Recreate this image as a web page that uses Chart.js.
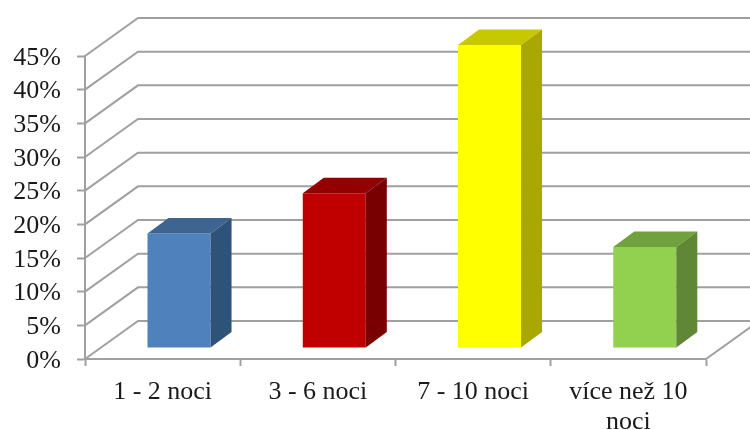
<!DOCTYPE html>
<html>
<head>
<meta charset="utf-8">
<style>
html,body{margin:0;padding:0;background:#fff}
canvas{display:block}
</style>
<script src="https://cdn.jsdelivr.net/npm/chart.js@4/dist/chart.umd.min.js"></script>
</head>
<body>
<canvas id="c" width="750" height="430"></canvas>
<script>
const categories = ["1 - 2 noci", "3 - 6 noci", "7 - 10 noci", ["více než 10", "noci"]];
const shares = [17, 23, 45, 15];
const yMax = 45;
const yStep = 5;
const frontColors = ["#4F81BD", "#C00000", "#FFFF00", "#92D050"];
const topColors = ["#3E6491", "#940000", "#C8C800", "#71A03E"];
const sideColors = ["#2F5279", "#780000", "#A8A800", "#5F8736"];

const gridColor = "#A0A0A0";
const wallDepth = { dx: 53, dy: -38 };   // depth of the floor and side wall
const barShift = { dx: 16.4, dy: -11 };  // bars stand part way into the floor
const barDepth = { dx: 21, dy: -15.5 };  // depth of each bar

const pseudo3d = {
  id: "pseudo3d",
  beforeDatasetsDraw(chart) {
    const { ctx, scales: { x, y }, chartArea: a } = chart;
    ctx.save();
    ctx.strokeStyle = gridColor;
    ctx.lineWidth = 2;
    // Side wall slants and back wall lines, one pair per tick
    y.ticks.forEach(t => {
      const py = y.getPixelForValue(t.value);
      ctx.beginPath();
      ctx.moveTo(a.left, py);
      ctx.lineTo(a.left + wallDepth.dx, py + wallDepth.dy);
      ctx.lineTo(chart.width + 10, py + wallDepth.dy);
      ctx.stroke();
    });
    // Right edge of the floor
    ctx.beginPath();
    ctx.moveTo(a.right, a.bottom);
    ctx.lineTo(a.right + wallDepth.dx, a.bottom + wallDepth.dy);
    ctx.stroke();
    ctx.restore();
    ctx.save();
    ctx.translate(barShift.dx, barShift.dy);
  },
  afterDatasetsDraw(chart) {
    const { ctx } = chart;
    chart.getDatasetMeta(0).data.forEach((bar, i) => {
      const l = bar.x - bar.width / 2, r = bar.x + bar.width / 2;
      ctx.fillStyle = topColors[i];
      ctx.beginPath();
      ctx.moveTo(l, bar.y);
      ctx.lineTo(l + barDepth.dx, bar.y + barDepth.dy);
      ctx.lineTo(r + barDepth.dx, bar.y + barDepth.dy);
      ctx.lineTo(r, bar.y);
      ctx.closePath();
      ctx.fill();
      ctx.fillStyle = sideColors[i];
      ctx.beginPath();
      ctx.moveTo(r, bar.y);
      ctx.lineTo(r + barDepth.dx, bar.y + barDepth.dy);
      ctx.lineTo(r + barDepth.dx, bar.base + barDepth.dy);
      ctx.lineTo(r, bar.base);
      ctx.closePath();
      ctx.fill();
    });
    ctx.restore();
  }
};

new Chart(document.getElementById("c"), {
  type: "bar",
  data: {
    labels: categories,
    datasets: [{
      data: shares,
      backgroundColor: frontColors,
      borderWidth: 0,
      barPercentage: 0.406,
      categoryPercentage: 1,
      clip: false
    }]
  },
  options: {
    responsive: false,
    animation: false,
    layout: { padding: { top: 56, right: 44, left: 0, bottom: 0 } },
    plugins: { legend: { display: false }, tooltip: { enabled: false } },
    scales: {
      x: {
        afterFit(s) { s.height = 71; },
        grid: { drawOnChartArea: false, color: gridColor, tickLength: 7, tickWidth: 2 },
        border: { color: gridColor, width: 2 },
        ticks: {
          color: "#1a1a1a",
          maxRotation: 0,
          padding: 11,
          font: { family: "'Liberation Serif'", size: 26, lineHeight: 1.15 }
        }
      },
      y: {
        min: 0,
        max: yMax,
        afterFit(s) { s.width = 85; },
        grid: { drawOnChartArea: false, color: gridColor, tickLength: 8, tickWidth: 2 },
        border: { color: gridColor, width: 2 },
        ticks: {
          stepSize: yStep,
          autoSkip: false,
          color: "#1a1a1a",
          padding: 16,
          labelOffset: 2,
          font: { family: "'Liberation Serif'", size: 26 },
          callback: v => v + "%"
        }
      }
    }
  },
  plugins: [pseudo3d]
});
</script>
</body>
</html>
